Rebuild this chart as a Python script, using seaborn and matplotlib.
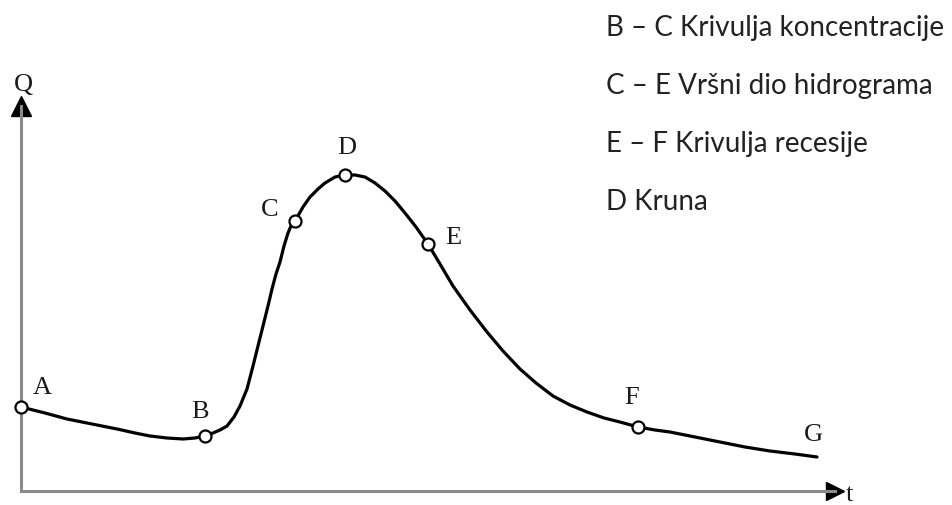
import matplotlib
matplotlib.use('Agg')
import matplotlib.pyplot as plt
import pandas as pd
import seaborn as sns

# Hydrograph (t to the right, Q upward, arbitrary units)
curve_t = [0, 24, 46, 71, 96, 114, 129, 146, 162, 174, 184,
           192, 199, 206, 213, 219, 226, 232, 237, 242, 247, 251, 255, 259, 263, 267, 270, 274,
           282, 289, 297, 304, 314, 324,
           334, 344, 354, 364, 374, 384, 395, 407,
           419, 432, 449, 466, 482, 499, 515, 532, 549, 566, 583, 599, 617,
           634, 649, 674, 699, 724, 749, 774, 796]
curve_q = [84, 78, 72, 67, 62, 58, 55, 53, 52, 53, 55,
           58, 61, 65, 74, 85, 102, 125, 145, 165, 185, 202, 217, 229, 245, 258, 265, 270,
           284, 294, 302, 308, 314, 316,
           316, 314, 308, 300, 290, 278, 264, 247,
           227, 205, 181, 159, 140, 122, 108, 95, 86, 79, 73, 69, 64,
           61, 59, 54, 49, 44, 40, 37, 34]

point_names = ['A', 'B', 'C', 'D', 'E', 'F']
point_t = [0, 184, 274, 324, 407, 617]
point_q = [84, 55, 270, 316, 247, 64]

label_names = ['A', 'B', 'C', 'D', 'E', 'F', 'G']
label_t = [21, 179, 249, 326, 432, 611, 792]
label_q = [104, 80, 282, 344, 254, 94, 57]

legend_lines = ['B – C Krivulja koncentracije', 'C – E Vršni dio hidrograma',
                'E – F Krivulja recesije', 'D Kruna']

df = pd.DataFrame({'t': curve_t, 'Q': curve_q})
pts = pd.DataFrame({'t': point_t, 'Q': point_q, 'name': point_names})

sns.set_style('white')
plt.rcParams['font.family'] = ['Liberation Serif', 'DejaVu Serif']

W, H = 952, 506
fig = plt.figure(figsize=(W / 100, H / 100), dpi=100)
ax = fig.add_axes([21 / W, (H - 492) / H, 814 / W, 385 / H])
ax.set_xlim(0, 814)
ax.set_ylim(0, 385)

sns.lineplot(data=df, x='t', y='Q', sort=False, color='black', linewidth=2.3, ax=ax)
sns.scatterplot(data=pts, x='t', y='Q', s=75, color='white', edgecolor='black',
                linewidth=1.6, zorder=5, clip_on=False, ax=ax)

for name, t, q in zip(label_names, label_t, label_q):
    ax.text(t, q, name, fontsize=19, ha='center', va='center', color='#1a1a1a')

# axes drawn as arrows
for side in ['top', 'right']:
    ax.spines[side].set_visible(False)
for side in ['left', 'bottom']:
    ax.spines[side].set_color('#8a8a8a')
    ax.spines[side].set_linewidth(2.2)
ax.plot(1, 0, '>', color='black', markersize=13, transform=ax.transAxes, clip_on=False)
ax.plot(0, 1, '^', color='black', markersize=15, transform=ax.transAxes, clip_on=False)
ax.set_xticks([])
ax.set_yticks([])
ax.set_xlabel('')
ax.set_ylabel('')

fig.text(23 / W, 1 - 85 / H, 'Q', fontsize=19, ha='center', va='center', color='#1a1a1a')
fig.text(849 / W, 1 - 495 / H, 't', fontsize=19, ha='center', va='center', color='#1a1a1a')

for i, line in enumerate(legend_lines):
    fig.text(606 / W, 1 - (28 + i * 58) / H, line, fontsize=20, family='Lato',
             ha='left', va='center', color='#222222')

fig.savefig('out.png', dpi=100)
